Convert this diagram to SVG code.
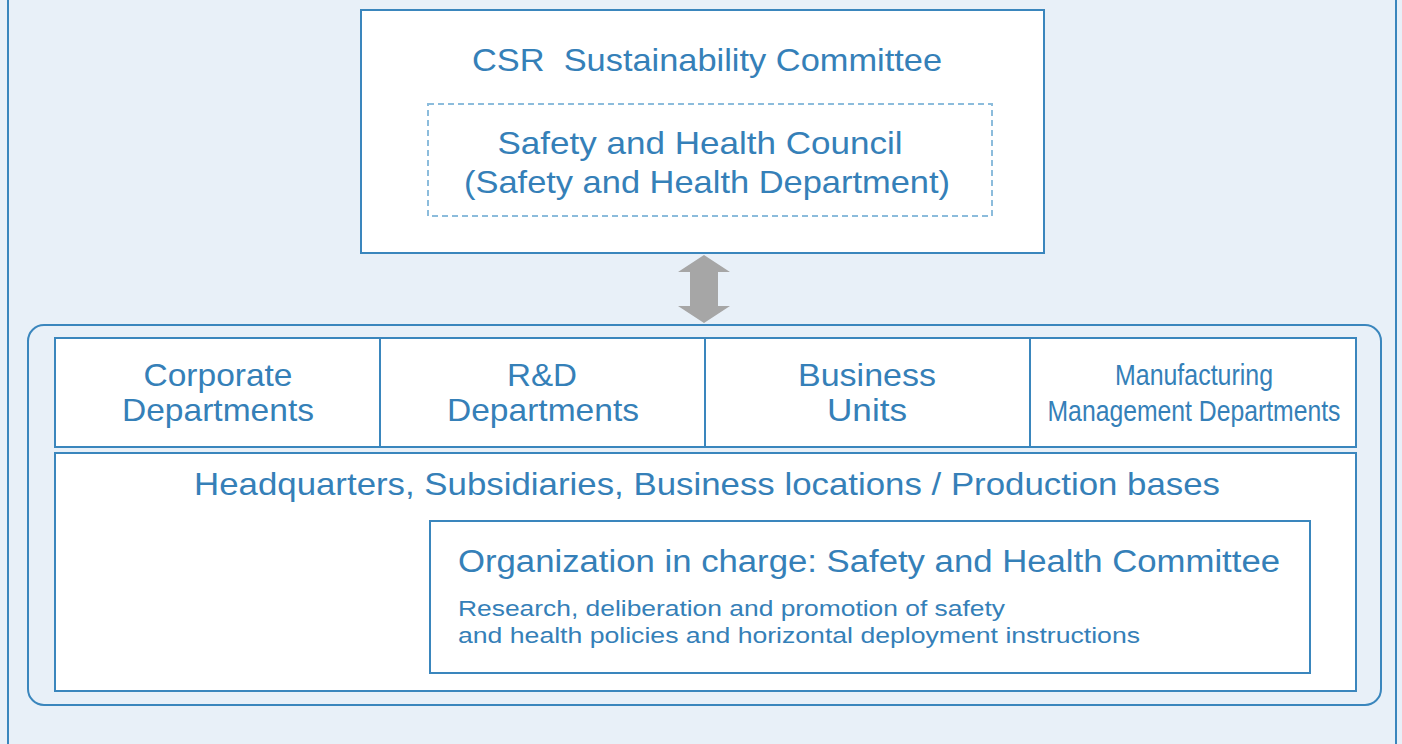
<svg xmlns="http://www.w3.org/2000/svg" width="1402" height="744" viewBox="0 0 1402 744">
<style>
.t{font-family:"Liberation Sans",Arial,sans-serif;fill:#3580b8;text-anchor:middle}
.ts{font-family:"Liberation Sans",Arial,sans-serif;fill:#3580b8}
.box{fill:#ffffff;stroke:#3a86bd;stroke-width:2}
</style>
<rect x="0" y="0" width="1402" height="744" fill="#e8f0f8"/>
<line x1="8" y1="0" x2="8" y2="744" stroke="#3a86bd" stroke-width="2"/>
<line x1="1396" y1="0" x2="1396" y2="744" stroke="#3a86bd" stroke-width="2"/>
<g id="top">
<rect class="box" x="361" y="10" width="683" height="243"/>
<text class="t" x="707" y="71" font-size="32" textLength="470" lengthAdjust="spacingAndGlyphs" style="white-space:pre">CSR  Sustainability Committee</text>
</g>
<g id="council">
<rect x="428" y="104" width="564" height="112" fill="none" stroke="#8cbcdc" stroke-width="2" stroke-dasharray="6 4"/>
<text class="t" x="700" y="154" font-size="32" textLength="405" lengthAdjust="spacingAndGlyphs">Safety and Health Council</text>
<text class="t" x="707" y="193" font-size="32" textLength="486" lengthAdjust="spacingAndGlyphs">(Safety and Health Department)</text>
</g>
<g id="connectors">
<polygon points="704,255 730,272 718,272 718,306 730,306 704,323 678,306 690,306 690,272 678,272" fill="#a6a6a6"/>
</g>
<g id="container">
<rect x="28" y="325" width="1353" height="380" rx="16" fill="#e8f0f8" stroke="#3a86bd" stroke-width="2"/>
</g>
<g id="corporate">
<rect class="box" x="55" y="338" width="325" height="109"/>
<text class="t" x="218" y="386" font-size="32" textLength="149" lengthAdjust="spacingAndGlyphs">Corporate</text>
<text class="t" x="218" y="421" font-size="32" textLength="192" lengthAdjust="spacingAndGlyphs">Departments</text>
</g>
<g id="rd">
<rect class="box" x="380" y="338" width="325" height="109"/>
<text class="t" x="542" y="386" font-size="32" textLength="70" lengthAdjust="spacingAndGlyphs">R&amp;D</text>
<text class="t" x="543" y="421" font-size="32" textLength="192" lengthAdjust="spacingAndGlyphs">Departments</text>
</g>
<g id="business">
<rect class="box" x="705" y="338" width="325" height="109"/>
<text class="t" x="867" y="386" font-size="32" textLength="138" lengthAdjust="spacingAndGlyphs">Business</text>
<text class="t" x="867" y="421" font-size="32" textLength="80" lengthAdjust="spacingAndGlyphs">Units</text>
</g>
<g id="manufacturing">
<rect class="box" x="1030" y="338" width="326" height="109"/>
<text class="t" x="1194" y="385" font-size="30" textLength="158" lengthAdjust="spacingAndGlyphs">Manufacturing</text>
<text class="t" x="1194" y="421" font-size="30" textLength="293" lengthAdjust="spacingAndGlyphs">Management Departments</text>
</g>
<g id="locations">
<rect class="box" x="55" y="453" width="1301" height="238"/>
<text class="t" x="707" y="495" font-size="32" textLength="1026" lengthAdjust="spacingAndGlyphs">Headquarters, Subsidiaries, Business locations / Production bases</text>
</g>
<g id="committee">
<rect class="box" x="430" y="521" width="880" height="152"/>
<text class="ts" x="458" y="572" font-size="31" textLength="822" lengthAdjust="spacingAndGlyphs">Organization in charge: Safety and Health Committee</text>
<text class="ts" x="458" y="616" font-size="22" textLength="547" lengthAdjust="spacingAndGlyphs">Research, deliberation and promotion of safety</text>
<text class="ts" x="458" y="643" font-size="22" textLength="682" lengthAdjust="spacingAndGlyphs">and health policies and horizontal deployment instructions</text>
</g>
</svg>
